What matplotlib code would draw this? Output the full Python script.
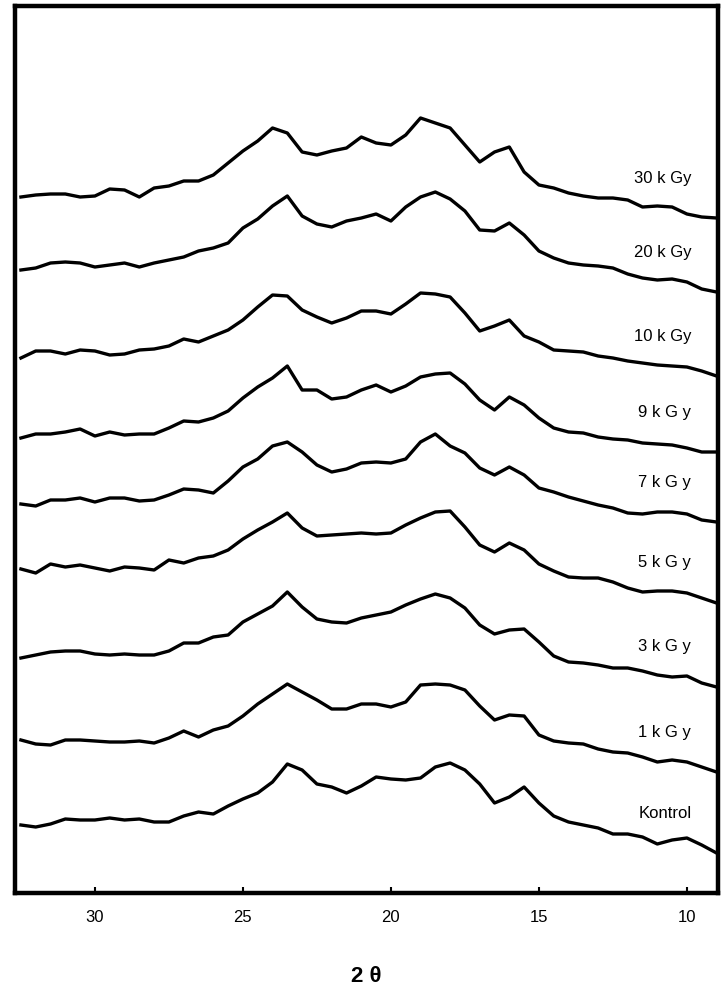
import numpy as np
import matplotlib.pyplot as plt

plt.rcParams['font.family'] = ['Liberation Sans', 'DejaVu Sans']

# 2theta grid (degrees), 0.5 deg steps
two_theta = np.arange(32.5, 8.99, -0.5)

# intensities (arbitrary units)
i_30kgy = [21, 23, 24, 24, 21, 22, 29, 28, 21, 30, 32, 37, 37, 43, 55, 67, 77, 90, 85, 66,
           63, 67, 70, 81, 75, 73, 83, 100, 95, 90, 73, 56, 66, 71, 46, 33, 30, 25, 22, 20,
           20, 18, 11, 12, 11, 4, 1, 0]
i_20kgy = [22, 24, 29, 30, 29, 25, 27, 29, 25, 29, 32, 35, 41, 44, 49, 64, 73, 86, 96, 76,
           68, 65, 71, 74, 78, 71, 85, 95, 100, 93, 81, 62, 61, 69, 57, 41, 34, 29, 27, 26,
           24, 18, 14, 12, 13, 10, 3, 0]
i_10kgy = [18, 25, 25, 22, 26, 25, 21, 22, 26, 27, 30, 37, 34, 40, 46, 56, 69, 81, 80, 66,
           59, 53, 58, 65, 65, 62, 72, 83, 82, 79, 63, 45, 50, 56, 40, 34, 26, 25, 24, 20,
           18, 15, 13, 11, 10, 9, 5, 0]
i_9kgy = [14, 18, 18, 20, 23, 16, 20, 17, 18, 18, 24, 31, 30, 34, 41, 54, 65, 74, 86, 62,
          62, 53, 55, 62, 67, 60, 66, 75, 78, 79, 68, 52, 42, 55, 47, 34, 24, 20, 19, 15,
          13, 12, 9, 8, 7, 4, 0, 0]
i_7kgy = [18, 16, 22, 22, 24, 20, 24, 24, 21, 22, 27, 33, 32, 29, 41, 55, 63, 76, 80, 70,
          57, 50, 53, 59, 60, 59, 63, 80, 88, 76, 69, 54, 47, 55, 47, 34, 30, 25, 21, 17,
          14, 9, 8, 10, 10, 8, 2, 0]
i_5kgy = [34, 30, 39, 36, 38, 35, 32, 36, 35, 33, 43, 40, 45, 47, 53, 64, 73, 81, 90, 75,
          67, 68, 69, 70, 69, 70, 78, 85, 91, 92, 76, 58, 51, 60, 53, 39, 32, 26, 25, 25,
          21, 15, 11, 12, 12, 10, 5, 0]
i_3kgy = [29, 32, 35, 36, 36, 33, 32, 33, 32, 32, 36, 44, 44, 50, 52, 65, 73, 81, 95, 80,
          68, 65, 64, 69, 72, 75, 82, 88, 93, 89, 79, 62, 53, 57, 58, 45, 31, 25, 24, 22,
          19, 19, 16, 12, 10, 11, 4, 0]
i_1kgy = [32, 28, 27, 32, 32, 31, 30, 30, 31, 29, 34, 41, 35, 42, 46, 56, 68, 78, 88, 80,
          72, 63, 63, 68, 68, 65, 70, 87, 88, 87, 82, 66, 52, 57, 56, 37, 31, 29, 28, 23,
          20, 19, 15, 10, 12, 10, 5, 0]
i_kontrol = [28, 26, 29, 34, 33, 33, 35, 33, 34, 31, 31, 37, 41, 39, 47, 54, 60, 71, 89, 83,
             69, 66, 60, 67, 76, 74, 73, 75, 86, 90, 83, 69, 50, 56, 66, 50, 37, 31, 28, 25,
             19, 19, 16, 9, 13, 15, 8, 0]

labels = ["30 k Gy", "20 k Gy", "10 k Gy", "9 k G y", "7 k G y", "5 k G y", "3 k G y", "1 k G y", "Kontrol"]
series = [i_30kgy, i_20kgy, i_10kgy, i_9kgy, i_7kgy, i_5kgy, i_3kgy, i_1kgy, i_kontrol]
offsets = [675, 601, 517, 441, 371, 290, 206, 121, 40]

fig = plt.figure(figsize=(7.24, 9.90), dpi=100)
ax = fig.add_axes([15 / 724, 97 / 990, 703 / 724, 887 / 990])

for lab, vals, off in zip(labels, series, offsets):
    ax.plot(two_theta, np.array(vals) + off, color="black", lw=2.4, solid_joinstyle="round")
    ax.text(9.85, off + 40, lab, ha="right", va="center", fontsize=12)

ax.set_xlim(32.7, 8.95)
ax.set_ylim(0, 887)
ax.set_xticks([30, 25, 20, 15, 10])
ax.set_yticks([])
ax.tick_params(axis="x", direction="in", length=4, width=1.5, labelsize=12, pad=12)
for s in ax.spines.values():
    s.set_linewidth(3.2)
ax.set_xlabel("2 \u03b8", fontsize=16, fontweight="bold", labelpad=30)

fig.savefig("out.png", dpi=100)
